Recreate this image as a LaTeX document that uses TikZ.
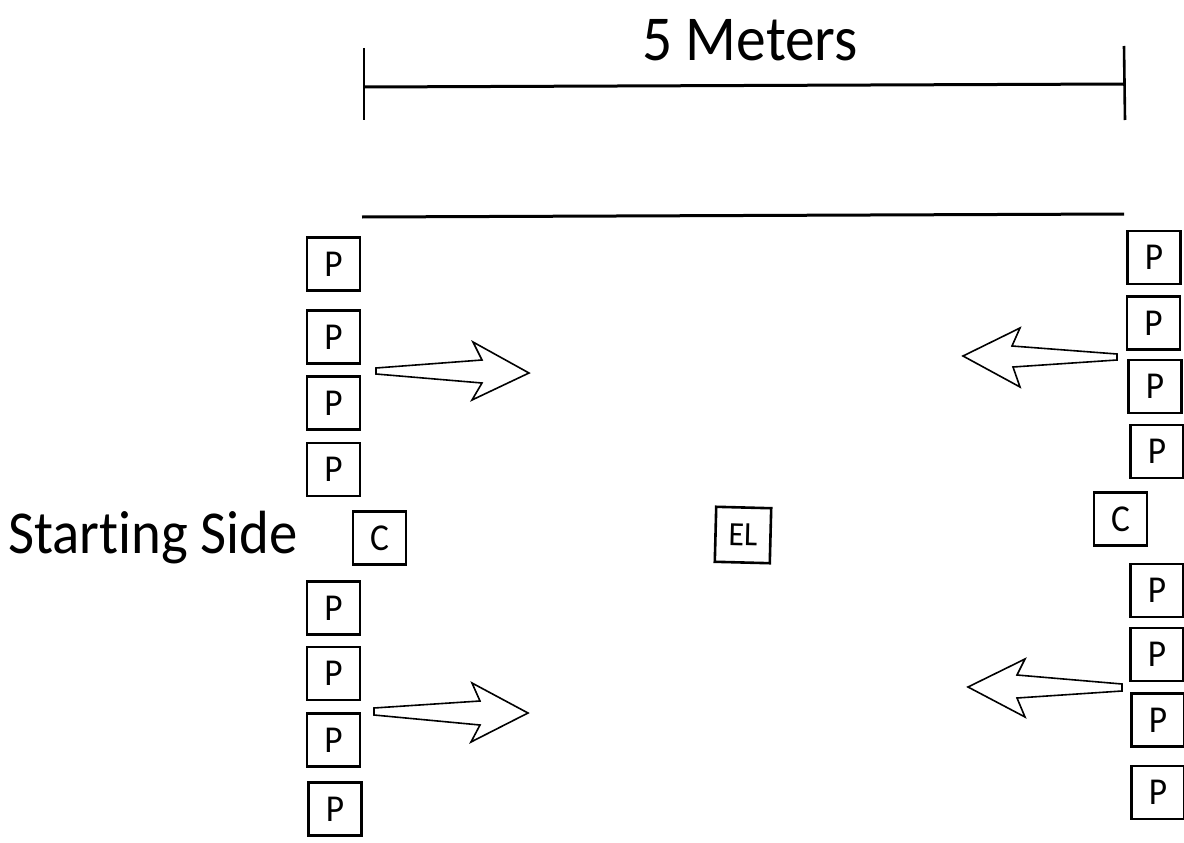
\documentclass[tikz,border=0pt]{standalone}
\usepackage{fontspec}
\newfontfamily\labfont[FakeStretch=0.93,Ligatures={NoCommon}]{Carlito}
\tikzset{
  pbox/.style={draw, line width=2.6pt, minimum size=53pt, inner sep=0pt, font=\labfont\fontsize{38}{44}\selectfont},
  blockarrow/.style={draw, line width=1.6pt, line join=miter, fill=white},
  bar/.style={line width=3pt},
  tick/.style={line width=2.6pt}
}
\begin{document}
\begin{tikzpicture}[x=1pt,y=-1pt]
\useasboundingbox (0,0) rectangle (1184,843);
\clip (0,0) rectangle (1184,843);
% dimension
\coordinate (d1a) at (364,48); \coordinate (d1b) at (364,120);
\coordinate (d2a) at (1124,46); \coordinate (d2b) at (1125,120);
\coordinate (dl) at (364,87); \coordinate (dr) at (1124,84);
\draw[tick] (d1a) -- (d1b);
\draw[tick] (d2a) -- (d2b);
\draw[bar] (dl) -- (dr);
\node[font=\labfont\fontsize{64}{70}\selectfont] (meters) at (750,40) {5 Meters};
% top line
\coordinate (t1) at (362,217); \coordinate (t2) at (1124,214);
\draw[bar] (t1) -- (t2);
% label
\node[font=\labfont\fontsize{61}{70}\selectfont, anchor=west, inner sep=0pt] (start) at (8,538) {Starting Side};
% left column
\node[pbox] (L1) at (333.5,264) {P};
\node[pbox] (L2) at (333.5,337) {P};
\node[pbox] (L3) at (333.5,403) {P};
\node[pbox] (L4) at (333.5,469.5) {P};
\node[pbox] (LC) at (379.5,538) {C};
\node[pbox] (L5) at (333.5,608) {P};
\node[pbox] (L6) at (333.5,673.5) {P};
\node[pbox] (L7) at (333.5,740) {P};
\node[pbox] (L8) at (335,809) {P};
% right column
\node[pbox] (R1) at (1154,257.5) {P};
\node[pbox] (R2) at (1153.5,323) {P};
\node[pbox] (R3) at (1155,386.5) {P};
\node[pbox] (R4) at (1157,451.5) {P};
\node[pbox] (RC) at (1120.5,519) {C};
\node[pbox] (R5) at (1157,590.5) {P};
\node[pbox] (R6) at (1157,654.5) {P};
\node[pbox] (R7) at (1158,720) {P};
\node[pbox] (R8) at (1158,792.5) {P};
% centre
\node[pbox, rotate=-1.5, minimum size=55pt, font=\labfont\fontsize{34}{40}\selectfont] (EL) at (743,535) {EL};
% arrows
\draw[blockarrow] (376,368) -- (482,360) -- (473,342) -- (529,373) -- (472,400) -- (482,383) -- (376,374) -- cycle;
\draw[blockarrow] (374,708) -- (480,701) -- (472,683) -- (528,713) -- (471,742) -- (480,725) -- (374,715) -- cycle;
\draw[blockarrow] (1117,354) -- (1012,346) -- (1020,328) -- (963,356) -- (1020,387) -- (1013,367) -- (1117,360) -- cycle;
\draw[blockarrow] (1122,684) -- (1017,675) -- (1025,659) -- (968,687) -- (1025,717) -- (1017,698) -- (1122,691) -- cycle;
\end{tikzpicture}
\end{document}
